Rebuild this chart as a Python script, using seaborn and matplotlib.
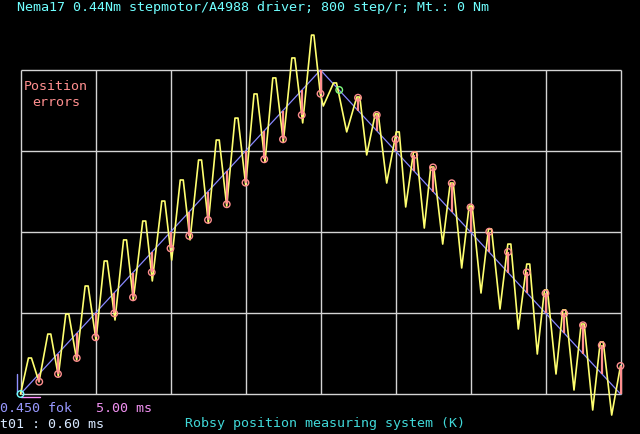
import numpy as np
import matplotlib
matplotlib.use("Agg")
import matplotlib.pyplot as plt
import seaborn as sns

# ---- data (time in ms, position in degrees) ----
# measured position (yellow), vertices of the trace (peaks have a short flat top)
yellow_t = [0.0,
            0.53, 0.73, 1.233, 1.82, 2.02, 2.52, 3.02, 3.22, 3.747,
            4.31, 4.51, 5.033, 5.58, 5.78, 6.3, 6.87, 7.07, 7.52,
            8.15, 8.35, 8.787, 9.42, 9.62, 10.08, 10.65, 10.85, 11.3,
            11.87, 12.07, 12.52, 13.05, 13.25, 13.747, 14.3, 14.5, 15.013,
            15.57, 15.77, 16.3, 16.82, 17.02, 17.52, 18.09, 18.29, 18.813,
            19.4, 19.56, 19.987, 20.187,
            20.87, 21.07, 21.747, 22.42, 22.62, 23.08, 23.65, 23.85, 24.413,
            25.05, 25.25, 25.68, 26.2, 26.4, 26.92, 27.35, 27.55, 28.147,
            28.65, 28.85, 29.413, 29.91, 30.11, 30.7, 31.2, 31.4, 31.967,
            32.49, 32.69, 33.187, 33.75, 33.95, 34.453, 34.93, 35.13, 35.7,
            36.15, 36.35, 36.9, 37.38, 37.58, 38.147, 38.65, 38.85, 39.413,
            40.0]
yellow_y = [0.0,
            0.2, 0.2, 0.067, 0.333, 0.333, 0.1, 0.444, 0.444, 0.189,
            0.6, 0.6, 0.3, 0.739, 0.739, 0.411, 0.856, 0.856, 0.522,
            0.961, 0.961, 0.628, 1.072, 1.072, 0.744, 1.189, 1.189, 0.856,
            1.3, 1.3, 0.95, 1.411, 1.411, 1.044, 1.533, 1.533, 1.161,
            1.667, 1.667, 1.289, 1.756, 1.756, 1.4, 1.867, 1.867, 1.506,
            1.994, 1.994, 1.667, 1.6,
            1.728, 1.728, 1.456, 1.65, 1.65, 1.328, 1.556, 1.556, 1.172,
            1.456, 1.456, 1.039, 1.344, 1.344, 0.922, 1.261, 1.261, 0.833,
            1.172, 1.172, 0.7, 1.044, 1.044, 0.561, 0.917, 0.917, 0.472,
            0.833, 0.833, 0.361, 0.722, 0.722, 0.222, 0.578, 0.578, 0.111,
            0.467, 0.467, 0.022, 0.389, 0.389, -0.089, 0.289, 0.289, -0.117,
            0.156]

# commanded position (blue)
ideal_t = [0.0, 20.0, 40.0]
ideal_y = [0.0, 1.8, 0.0]

# sampled position at each step (circles)
step_t = [0.0, 1.25, 2.5, 3.75, 5.0, 6.25, 7.5, 8.75, 10.0, 11.25, 12.5,
          13.75, 15.0, 16.25, 17.5, 18.75, 20.0, 21.25, 22.5, 23.75, 25.0,
          26.25, 27.5, 28.75, 30.0, 31.25, 32.5, 33.75, 35.0, 36.25, 37.5,
          38.75, 40.0]
step_y = [0.0, 0.068, 0.111, 0.2, 0.315, 0.448, 0.537, 0.676, 0.809, 0.878,
          0.967, 1.054, 1.174, 1.304, 1.415, 1.55, 1.668, 1.689, 1.646, 1.55,
          1.415, 1.328, 1.259, 1.171, 1.037, 0.902, 0.789, 0.676, 0.559, 0.448,
          0.382, 0.271, 0.156]

x_grid = [0, 5, 10, 15, 20, 25, 30, 35, 40]
y_grid = [0, 0.45, 0.9, 1.35, 1.8]

# ---- colours ----
BG = "black"
GRID = "#d4d4d4"
YELLOW = "#ffff70"
BLUE = "#8888ff"
PINK = "#ff8f8f"
GREEN = "#80ff80"
CYAN = "#70ffff"

sns.set_style("dark")
plt.rcParams["font.family"] = ["DejaVu Sans Mono"]

W, H = 640, 434
fig = plt.figure(figsize=(6.4, 4.34), dpi=100, facecolor=BG)
ax = fig.add_axes([0, 0, 1, 1])
ax.set_facecolor(BG)

# pixel mapping: t=0 -> x=20.5, 15 px per ms ; y=0 -> row 394, 180 px per degree
ax.set_xlim(-20.5 / 15, (W - 20.5) / 15)
ax.set_ylim((394 - H) / 180, 394 / 180)
ax.axis("off")

# grid box
ax.vlines(x_grid, y_grid[0], y_grid[-1], color=GRID, lw=1.0, zorder=1)
ax.hlines(y_grid, x_grid[0], x_grid[-1], color=GRID, lw=1.0, zorder=1)

# commanded position
sns.lineplot(x=ideal_t, y=ideal_y, color=BLUE, lw=0.9, sort=False,
             estimator=None, ax=ax, zorder=2)

# measured position
sns.lineplot(x=yellow_t, y=yellow_y, color=YELLOW, lw=1.2, sort=False,
             estimator=None, ax=ax, zorder=3)

# position errors: line from commanded to sampled position
cmd = np.interp(step_t, ideal_t, ideal_y)
ax.vlines(step_t, cmd, step_y, color=PINK, lw=1.6, zorder=4)

ring_colors = [PINK] * len(step_t)
ring_colors[0] = CYAN
ring_colors[17] = GREEN
sns.scatterplot(x=step_t, y=step_y, marker="o", s=22, facecolors="none",
                edgecolors=ring_colors, linewidths=1.0, ax=ax, zorder=5)

# scale markers at bottom-left
ax.plot([0, 19.5 / 15], [-3 / 180, -3 / 180], color="#ff90ff", lw=1.0)
ax.plot([-3.5 / 15, -3.5 / 15], [0, 20 / 180], color="#9090ff", lw=1.0)


def label(px, py, s, color, ha="left"):
    fig.text(px / W, 1 - py / H, s, color=color, fontsize=9.6,
             ha=ha, va="center")


label(17, 8, "Nema17 0.44Nm stepmotor/A4988 driver; 800 step/r; Mt.: 0 Nm", CYAN)
label(56, 87, "Position", PINK, ha="center")
label(56, 103, "errors", PINK, ha="center")
label(0, 408, "0.450 fok", "#9898ff")
label(96, 408, "5.00 ms", "#f090f0")
label(0, 424, "t01 : 0.60 ms", "#d8e8ff")
label(185, 424, "Robsy position measuring system (K)", "#40d8d8")

fig.savefig("out.png", dpi=100, facecolor=BG)
